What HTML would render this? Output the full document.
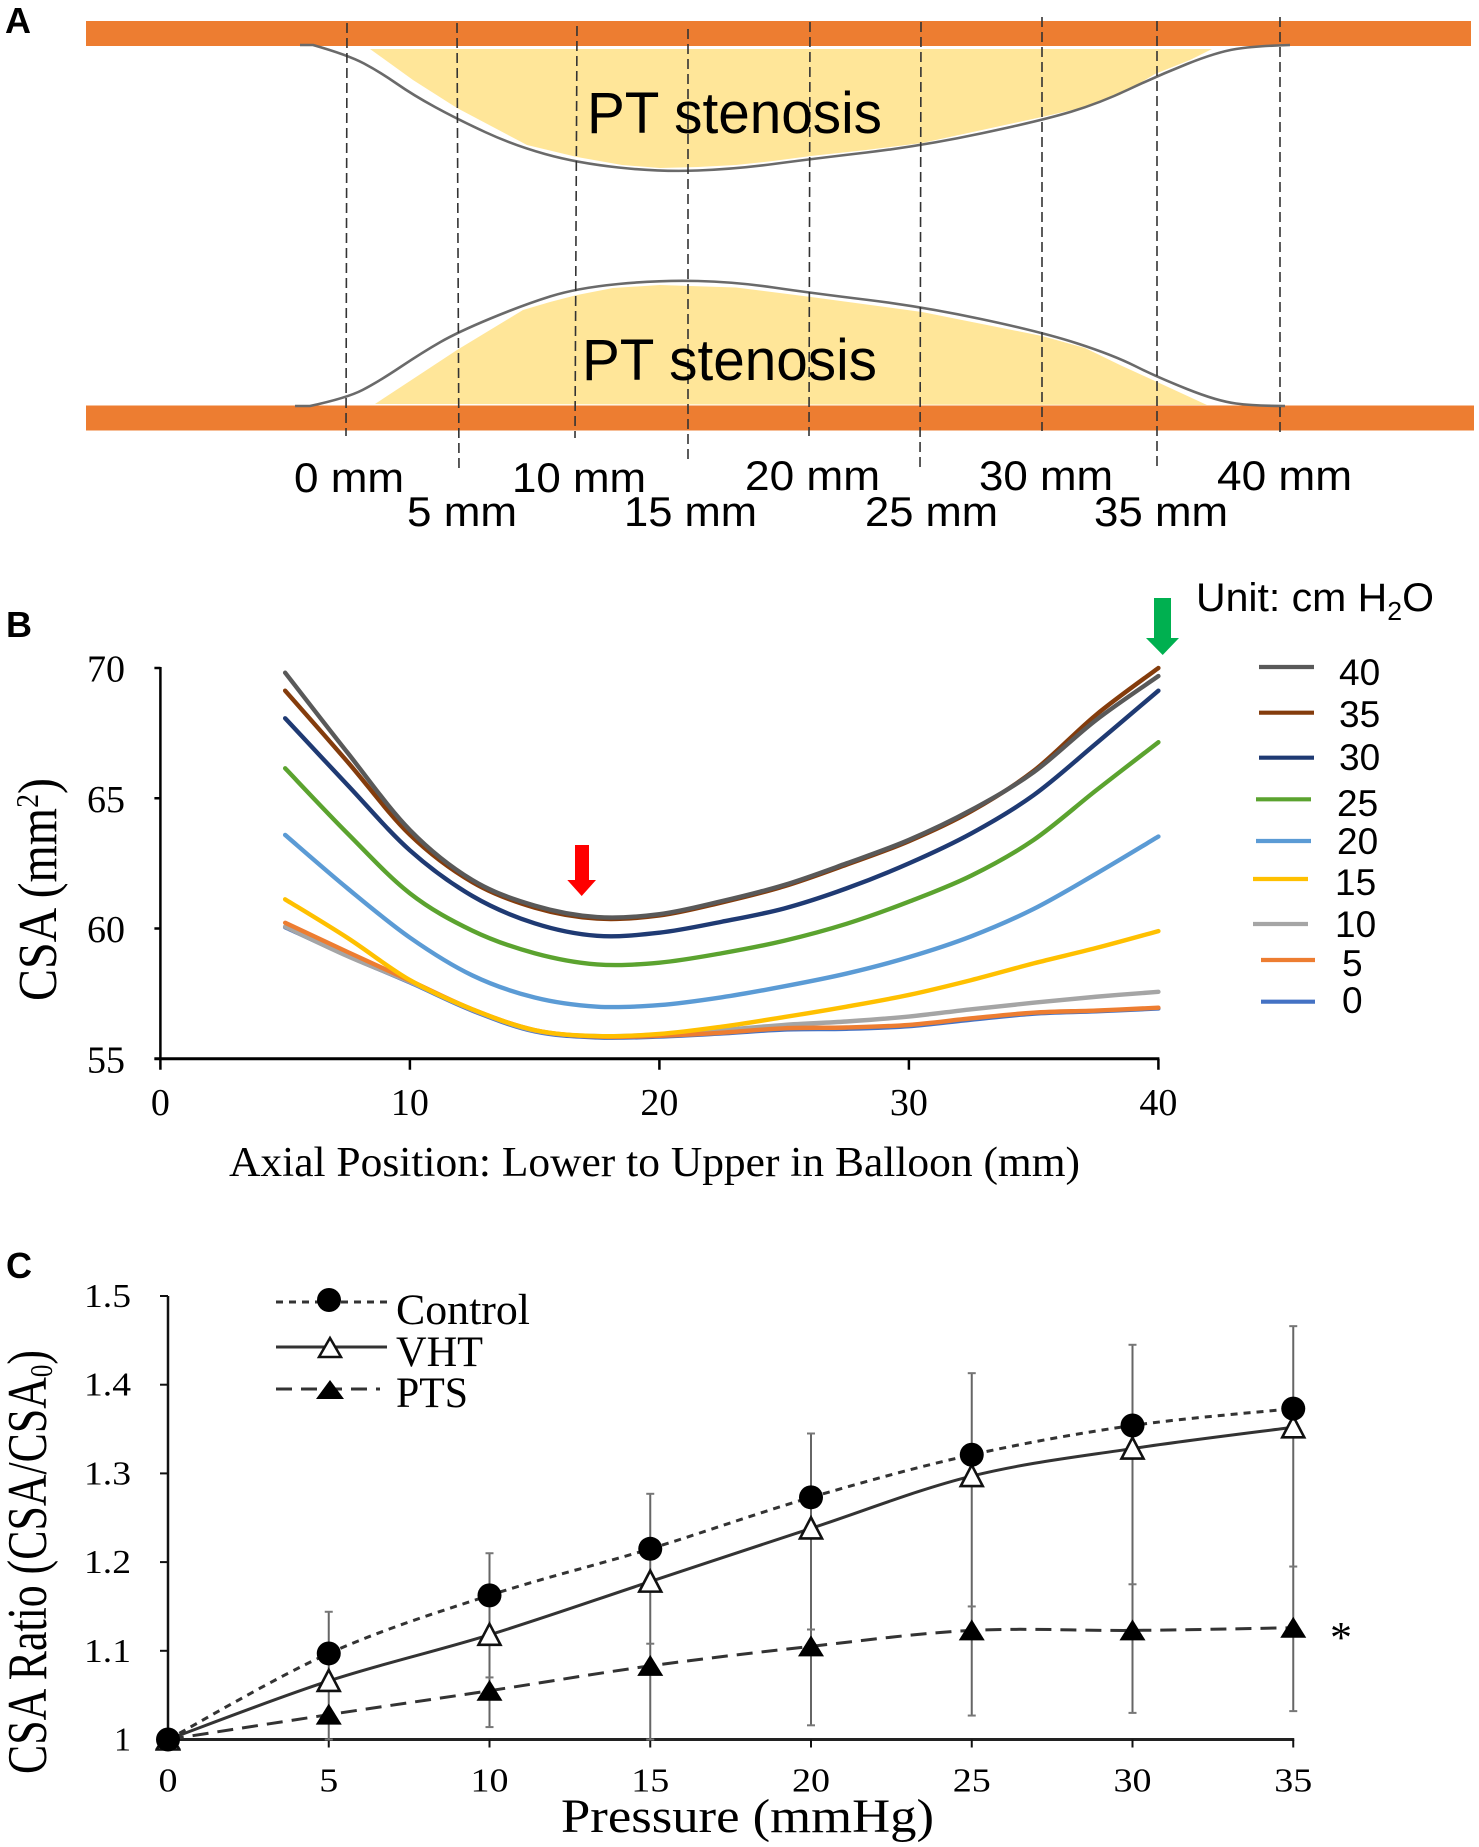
<!DOCTYPE html>
<html lang="en">
<head>
<meta charset="utf-8">
<title>PT stenosis balloon CSA figure</title>
<style>
html,body{margin:0;padding:0;background:#fff;}
svg{display:block;}
.sans{font-family:"Liberation Sans",sans-serif;}
.serif{font-family:"Liberation Serif",serif;}
</style>
</head>
<body>
<svg id="fig" xmlns="http://www.w3.org/2000/svg" width="1479" height="1847" viewBox="0 0 1479 1847">
  <rect x="0" y="0" width="1479" height="1847" fill="#ffffff"/>

  <g>
    <text class="sans" x="5" y="33" font-size="36" font-weight="bold">A</text>
    <polygon fill="#ffe699" points="370,49 1212,49 1190,60 1155,74 1120,95 1085,107 1042,117 982,130 922,143 866,150 811,156 773,161 736,165 698,167 660,168 622,165 577,157 527,145 457,108 413,80"/>
    <polygon fill="#ffe699" points="375,404 457,350 523,310 550,302 577,295 613,288 660,285 736,287.5 811,297 922,312 1042,336 1085,348 1120,365 1155,381 1207,405"/>
    <rect x="86" y="21" width="1385" height="25" fill="#ed7d31"/>
    <rect x="86" y="405.5" width="1388" height="25" fill="#ed7d31"/>
    <path fill="none" stroke="#6a6a6a" stroke-width="2.6" d="M300 45 L313 45 Q348 55 364 63.5 Q380 72 396.5 83.5 Q413 95 435 107 Q457 119 485 132 Q513 145 545 154 Q577 163 618.5 167.5 Q660 172 698 170.5 Q736 169 773.5 164 Q811 159 866.5 152.5 Q922 146 982 133.25 Q1042 120.5 1071 111.75 Q1100 103 1128.5 89.5 Q1157 76 1187 64 Q1217 52 1236 49 Q1255 46 1290 45"/>
    <path fill="none" stroke="#6a6a6a" stroke-width="2.6" d="M295 406 L310 406 Q347 398 362.5 390 Q378 382 400.5 367 Q423 352 440.5 342 Q458 332 490.5 318.5 Q523 305 550 296.5 Q577 288 618.5 284 Q660 280 698 281 Q736 282 773.5 287.5 Q811 293 866.5 299.75 Q922 306.5 982 319.25 Q1042 332 1077.5 343.5 Q1113 355 1135 366 Q1157 377 1187 389 Q1217 401 1236 403.5 Q1255 406 1285 406"/>
    <g stroke="#333" stroke-width="1.6" stroke-dasharray="10 5" fill="none">
      <line x1="347" y1="23" x2="346" y2="436"/>
      <line x1="457" y1="23" x2="459" y2="472"/>
      <line x1="577" y1="26" x2="575" y2="438"/>
      <line x1="688" y1="29" x2="688" y2="462"/>
      <line x1="810" y1="22" x2="809" y2="436"/>
      <line x1="921" y1="22" x2="920" y2="471"/>
      <line x1="1042" y1="17" x2="1042" y2="431"/>
      <line x1="1157" y1="21" x2="1157" y2="471"/>
      <line x1="1280" y1="17" x2="1280" y2="436"/>
    </g>
    <text class="sans" x="587" y="133" font-size="58" textLength="295" lengthAdjust="spacingAndGlyphs">PT stenosis</text>
    <text class="sans" x="582" y="380" font-size="58" textLength="295" lengthAdjust="spacingAndGlyphs">PT stenosis</text>
    <g class="sans" font-size="42">
      <text x="294" y="492" textLength="110" lengthAdjust="spacingAndGlyphs">0 mm</text>
      <text x="407" y="526" textLength="110" lengthAdjust="spacingAndGlyphs">5 mm</text>
      <text x="512" y="492" textLength="134" lengthAdjust="spacingAndGlyphs">10 mm</text>
      <text x="624" y="526" textLength="133" lengthAdjust="spacingAndGlyphs">15 mm</text>
      <text x="745" y="490" textLength="135" lengthAdjust="spacingAndGlyphs">20 mm</text>
      <text x="865" y="526" textLength="133" lengthAdjust="spacingAndGlyphs">25 mm</text>
      <text x="979" y="490" textLength="134" lengthAdjust="spacingAndGlyphs">30 mm</text>
      <text x="1094" y="526" textLength="134" lengthAdjust="spacingAndGlyphs">35 mm</text>
      <text x="1217" y="490" textLength="135" lengthAdjust="spacingAndGlyphs">40 mm</text>
    </g>
  </g>

  <g>
    <text class="sans" x="6" y="637" font-size="36" font-weight="bold">B</text>
    <g id="b-plot"></g>
    <text class="serif" font-size="55" transform="translate(56,1001) rotate(-90)" textLength="223" lengthAdjust="spacingAndGlyphs">CSA (mm<tspan font-size="32" dy="-18">2</tspan><tspan dy="18">)</tspan></text>
    <text class="serif" x="229" y="1176" font-size="42" textLength="851" lengthAdjust="spacingAndGlyphs">Axial Position: Lower to Upper in Balloon (mm)</text>
    <polygon fill="#ff0000" points="575,845 589,845 589,880 596,880 581.7,896 567.3,880 575,880"/>
    <polygon fill="#00b050" points="1154,598 1171,598 1171,638 1179,638 1162.7,655 1146,638 1154,638"/>
    <text class="sans" x="1196" y="611" font-size="40" textLength="238" lengthAdjust="spacingAndGlyphs">Unit: cm H<tspan font-size="26" dy="9">2</tspan><tspan dy="-9">O</tspan></text>
    <g stroke-width="4.2" fill="none">
      <line x1="1259" y1="667" x2="1314" y2="667" stroke="#595959"/>
      <line x1="1259" y1="712.7" x2="1314" y2="712.7" stroke="#843c0c"/>
      <line x1="1259" y1="757.7" x2="1314" y2="757.7" stroke="#1f3a73"/>
      <line x1="1256" y1="799.3" x2="1311" y2="799.3" stroke="#5ba32f"/>
      <line x1="1256" y1="841" x2="1311" y2="841" stroke="#5b9bd5"/>
      <line x1="1253" y1="879" x2="1308" y2="879" stroke="#ffc000"/>
      <line x1="1253" y1="924" x2="1308" y2="924" stroke="#a5a5a5"/>
      <line x1="1261" y1="960" x2="1315" y2="960" stroke="#ed7d31"/>
      <line x1="1261" y1="1001.7" x2="1315" y2="1001.7" stroke="#4472c4"/>
    </g>
    <g class="sans" font-size="37">
      <text x="1339" y="685">40</text>
      <text x="1339" y="727">35</text>
      <text x="1339" y="770">30</text>
      <text x="1337" y="816">25</text>
      <text x="1337" y="854">20</text>
      <text x="1335" y="895">15</text>
      <text x="1335" y="937">10</text>
      <text x="1342" y="976">5</text>
      <text x="1342" y="1013">0</text>
    </g>
  </g>

  <g>
    <text class="sans" x="6" y="1278" font-size="36" font-weight="bold">C</text>
    <g id="c-plot"></g>
    <text class="serif" font-size="56" transform="translate(46,1774) rotate(-90)" textLength="424" lengthAdjust="spacingAndGlyphs">CSA Ratio (CSA/CSA<tspan font-size="32" dy="6">0</tspan><tspan dy="-6">)</tspan></text>
    <text class="serif" x="561" y="1832" font-size="48" textLength="373" lengthAdjust="spacingAndGlyphs">Pressure (mmHg)</text>
    <text class="serif" x="1330" y="1652" font-size="44">*</text>
    <g>
      <line x1="276" y1="1302" x2="387" y2="1302" stroke="#333" stroke-width="3" stroke-dasharray="7 6"/>
      <circle cx="329" cy="1300" r="12" fill="#000"/>
      <line x1="276" y1="1347" x2="387" y2="1347" stroke="#333" stroke-width="3"/>
      <polygon points="330,1338 341,1357 319,1357" fill="#fff" stroke="#111" stroke-width="2.5"/>
      <line x1="276" y1="1389" x2="380" y2="1389" stroke="#333" stroke-width="3" stroke-dasharray="16 9"/>
      <polygon points="330,1380 344,1399 316,1399" fill="#000"/>
      <text class="serif" x="396" y="1324" font-size="43" textLength="134" lengthAdjust="spacingAndGlyphs">Control</text>
      <text class="serif" x="396" y="1366" font-size="43" textLength="87" lengthAdjust="spacingAndGlyphs">VHT</text>
      <text class="serif" x="396" y="1407" font-size="43" textLength="72" lengthAdjust="spacingAndGlyphs">PTS</text>
    </g>
  </g>
</svg>

<script>
// Panel B data
var axialPositions = [5, 7.5, 10, 12.5, 15, 17.5, 20, 22.5, 25, 27.5, 30, 32.5, 35, 37.5, 40];
var csa0  = [60.05, 58.95, 57.93, 56.85, 56.05, 55.82, 55.85, 55.97, 56.12, 56.15, 56.25, 56.5, 56.73, 56.82, 56.93];
var csa5  = [60.22, 59.1, 58.0, 56.9, 56.1, 55.85, 55.88, 56.0, 56.17, 56.2, 56.3, 56.55, 56.77, 56.85, 56.96];
var csa10 = [60.07, 58.94, 57.95, 56.88, 56.08, 55.87, 55.93, 56.1, 56.3, 56.43, 56.62, 56.9, 57.15, 57.38, 57.57];
var csa15 = [61.12, 59.64, 58.02, 56.9, 56.1, 55.87, 55.95, 56.23, 56.6, 57.0, 57.45, 58.02, 58.66, 59.25, 59.9];
var csa20 = [63.59, 61.54, 59.65, 58.2, 57.35, 57.0, 57.06, 57.36, 57.78, 58.27, 58.9, 59.7, 60.75, 62.1, 63.53];
var csa25 = [66.15, 63.65, 61.35, 59.92, 59.05, 58.62, 58.69, 59.05, 59.53, 60.18, 61.03, 62.03, 63.4, 65.3, 67.15];
var csa30 = [68.07, 65.51, 63.0, 61.25, 60.2, 59.72, 59.84, 60.26, 60.77, 61.54, 62.5, 63.65, 65.12, 67.1, 69.13];
var csa35 = [69.13, 66.4, 63.6, 61.78, 60.8, 60.38, 60.5, 61.0, 61.62, 62.45, 63.35, 64.5, 66.05, 68.2, 70.0];
var csa40 = [69.82, 66.75, 63.78, 61.86, 60.88, 60.44, 60.55, 61.05, 61.67, 62.5, 63.4, 64.55, 66.0, 68.0, 69.69];
var csaXTicks = [0, 10, 20, 30, 40];
var csaYTicks = [55, 60, 65, 70];

// Panel C data
var pressures = [0, 5, 10, 15, 20, 25, 30, 35];
var ratioControl = [1, 1.097, 1.1625, 1.215, 1.273, 1.321, 1.354, 1.373];
var ratioVHT = [1, 1.066, 1.118, 1.178, 1.238, 1.297, 1.328, 1.352];
var ratioPTS = [1, 1.028, 1.055, 1.083, 1.105, 1.123, 1.123, 1.126];
var controlUpper = [1, 1.144, 1.21, 1.277, 1.345, 1.413, 1.445, 1.466];
var vhtLower = [1, 1.02, 1.07, 1.108, 1.124, 1.15, 1.175, 1.195];
var ptsLower = [1, 1.0, 1.014, 1.0, 1.016, 1.027, 1.03, 1.032];
var ratioYTicks = ['1', '1.1', '1.2', '1.3', '1.4', '1.5'];

var NS = 'http://www.w3.org/2000/svg';

function make(parent, tag, attrs, text) {
  var el = document.createElementNS(NS, tag);
  for (var k in attrs) { el.setAttribute(k, attrs[k]); }
  if (text !== undefined) { el.textContent = text; }
  parent.appendChild(el);
  return el;
}

function smoothPath(xs, ys) {
  var d = 'M' + xs[0].toFixed(2) + ' ' + ys[0].toFixed(2);
  for (var i = 0; i < xs.length - 1; i++) {
    var i0 = Math.max(i - 1, 0), i3 = Math.min(i + 2, xs.length - 1);
    var c1x = xs[i] + (xs[i + 1] - xs[i0]) / 6;
    var c1y = ys[i] + (ys[i + 1] - ys[i0]) / 6;
    var c2x = xs[i + 1] - (xs[i3] - xs[i]) / 6;
    var c2y = ys[i + 1] - (ys[i3] - ys[i]) / 6;
    d += ' C' + c1x.toFixed(2) + ' ' + c1y.toFixed(2) + ' ' + c2x.toFixed(2) + ' ' + c2y.toFixed(2) + ' ' + xs[i + 1].toFixed(2) + ' ' + ys[i + 1].toFixed(2);
  }
  return d;
}

// ---------- Panel B ----------
var bPlot = document.getElementById('b-plot');
function xB(v) { return 160.4 + 24.95 * v; }
function yB(v) { return 668 + (70 - v) * 26.05; }

var csaSeries = [
  { label: '0', values: csa0, color: '#4472c4' },
  { label: '10', values: csa10, color: '#a5a5a5' },
  { label: '5', values: csa5, color: '#ed7d31' },
  { label: '15', values: csa15, color: '#ffc000' },
  { label: '20', values: csa20, color: '#5b9bd5' },
  { label: '25', values: csa25, color: '#5ba32f' },
  { label: '30', values: csa30, color: '#1f3a73' },
  { label: '35', values: csa35, color: '#843c0c' },
  { label: '40', values: csa40, color: '#595959' }
];

csaSeries.forEach(function (s) {
  var p = make(bPlot, 'path', {
    d: smoothPath(axialPositions.map(xB), s.values.map(yB)),
    fill: 'none', stroke: s.color, 'stroke-width': 4.4, 'stroke-linecap': 'round'
  });
  
  
});

var bYAxis = make(bPlot, 'line', { x1: xB(0), y1: yB(70) - 1, x2: xB(0), y2: yB(55), stroke: '#000', 'stroke-width': 2.5 });


var bXAxis = make(bPlot, 'line', { x1: xB(0) - 6, y1: yB(55), x2: xB(40) + 1, y2: yB(55), stroke: '#000', 'stroke-width': 3 });



csaXTicks.forEach(function (v) {
  var t = make(bPlot, 'line', { x1: xB(v), y1: yB(55), x2: xB(v), y2: yB(55) + 11, stroke: '#000', 'stroke-width': 2.5 });
  
  
  var l = make(bPlot, 'text', { x: xB(v), y: 1115, 'text-anchor': 'middle', 'font-size': 38, 'font-family': '"Liberation Serif", serif' }, String(v));
  
  
});
csaYTicks.forEach(function (v) {
  var t = make(bPlot, 'line', { x1: xB(0) - 6, y1: yB(v), x2: xB(0), y2: yB(v), stroke: '#000', 'stroke-width': 2.5 });
  
  
  var l = make(bPlot, 'text', { x: 125, y: yB(v) + 13.5, 'text-anchor': 'end', 'font-size': 38, 'font-family': '"Liberation Serif", serif' }, String(v));
  
  
});

// ---------- Panel C ----------
var cPlot = document.getElementById('c-plot');
function xC(v) { return 168 + 32.15 * v; }
function yC(v) { return 1739.5 - (v - 1) * 887; }

var cYAxis = make(cPlot, 'line', { x1: xC(0), y1: yC(1.5), x2: xC(0), y2: yC(1), stroke: '#111', 'stroke-width': 2.5 });


var cXAxis = make(cPlot, 'line', { x1: xC(0), y1: yC(1), x2: xC(35) + 1, y2: yC(1), stroke: '#222', 'stroke-width': 3 });



pressures.forEach(function (v) {
  var t = make(cPlot, 'line', { x1: xC(v), y1: yC(1), x2: xC(v), y2: yC(1) + 8, stroke: '#111', 'stroke-width': 2 });
  
  
  var label = String(v);
  var l = make(cPlot, 'text', { x: xC(v), y: 1791.5, 'text-anchor': 'middle', 'font-size': 34, 'font-family': '"Liberation Serif", serif', textLength: label.length * 19, lengthAdjust: 'spacingAndGlyphs' }, label);
  
  
});
ratioYTicks.forEach(function (label) {
  var v = parseFloat(label);
  var t = make(cPlot, 'line', { x1: xC(0) - 8, y1: yC(v), x2: xC(0), y2: yC(v), stroke: '#111', 'stroke-width': 2 });
  
  
  var l = make(cPlot, 'text', { x: 131, y: yC(v) + 11, 'text-anchor': 'end', 'font-size': 34, 'font-family': '"Liberation Serif", serif', textLength: label.length === 1 ? 17 : 47, lengthAdjust: 'spacingAndGlyphs' }, label);
  
  
});

// Error bars
pressures.forEach(function (v, i) {
  if (i === 0) { return; }
  var bar = make(cPlot, 'line', { x1: xC(v), y1: yC(controlUpper[i]), x2: xC(v), y2: yC(ptsLower[i]), stroke: '#666', 'stroke-width': 2 });
  
  
  [controlUpper[i], vhtLower[i], ptsLower[i]].forEach(function (c) {
    var cap = make(cPlot, 'line', { x1: xC(v) - 4, y1: yC(c), x2: xC(v) + 4, y2: yC(c), stroke: '#777', 'stroke-width': 2 });
    
    
  });
});

// Lines
var pxC = pressures.map(xC);
var lineControl = make(cPlot, 'path', { d: smoothPath(pxC, ratioControl.map(yC)), fill: 'none', stroke: '#333', 'stroke-width': 3, 'stroke-dasharray': '7 6' });


var lineVHT = make(cPlot, 'path', { d: smoothPath(pxC, ratioVHT.map(yC)), fill: 'none', stroke: '#333', 'stroke-width': 3 });


var linePTS = make(cPlot, 'path', { d: smoothPath(pxC, ratioPTS.map(yC)), fill: 'none', stroke: '#333', 'stroke-width': 3, 'stroke-dasharray': '16 9' });



// Markers
function triPoints(cx, cy, halfWidth) {
  return cx + ',' + (cy - 11) + ' ' + (cx + halfWidth) + ',' + (cy + 10) + ' ' + (cx - halfWidth) + ',' + (cy + 10);
}
pressures.forEach(function (v, i) {
  var m = make(cPlot, 'polygon', { points: triPoints(xC(v), yC(ratioPTS[i]), 13), fill: '#000' });
  
  
});
pressures.forEach(function (v, i) {
  var m = make(cPlot, 'polygon', { points: triPoints(xC(v), yC(ratioVHT[i]), 11), fill: '#fff', stroke: '#111', 'stroke-width': 2.6 });
  
  
});
pressures.forEach(function (v, i) {
  var m = make(cPlot, 'circle', { cx: xC(v), cy: yC(ratioControl[i]), r: 12, fill: '#000' });
  
  
});
</script>
</body>
</html>
